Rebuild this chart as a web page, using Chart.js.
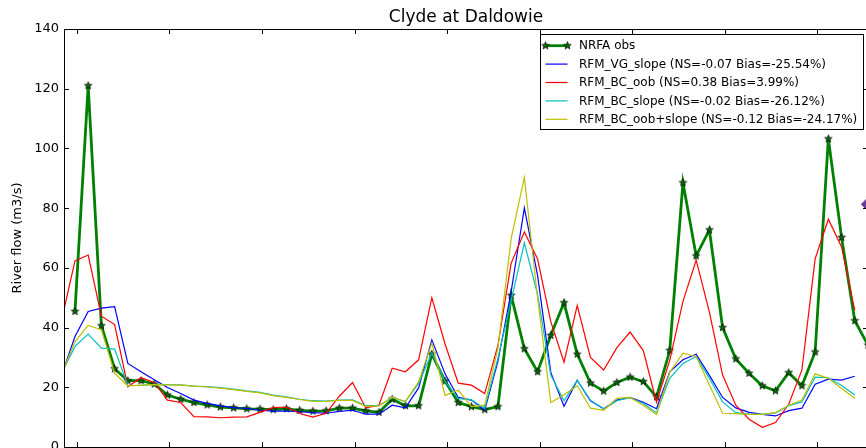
<!DOCTYPE html>
<html>
<head>
<meta charset="utf-8">
<script src="https://cdn.jsdelivr.net/npm/chart.js@4/dist/chart.umd.min.js"></script>
<style>
html, body { margin: 0; padding: 0; background: #fff; overflow: hidden; }
#wrap { width: 866px; height: 448px; overflow: hidden; }
canvas { display: block; }
</style>
</head>
<body>
<div id="wrap"><canvas id="chart" width="880" height="456"></canvas></div>
<script>
// day index of first value in each series (models start one day earlier)
const obsStart = 0;
const modelStart = -1;

const obsFlow = [45.4, 121, 40.6, 26.2, 22.2, 22.2, 21.1, 17.4, 16.0, 14.9,
    14.1, 13.4, 13.1, 12.8, 12.7, 12.5, 12.8, 12.3, 12.0, 12.1,
    13.0, 13.0, 12.1, 11.6, 16.0, 13.8, 13.8, 31.1, 22.1, 14.9,
    13.5, 12.5, 13.5, 50.8, 32.9, 25.2, 37.4, 48.3, 31.1, 21.4,
    18.7, 21.6, 23.4, 21.9, 16.8, 32.3, 88.5, 64.0, 72.7, 40.0,
    29.5, 24.7, 20.5, 18.8, 24.9, 20.5, 31.8, 103.2, 70.2, 42.3, 34.1];

const vgSlope = [24.2, 37, 45.4, 46.5, 47.0, 28.0, 25.2, 22.5, 19.9, 17.9,
    15.7, 14.6, 13.8, 13.2, 12.9, 12.3, 12.0, 12.0, 11.8, 11.5,
    11.3, 11.9, 12.3, 11.0, 11.0, 14.0, 13.1, 19.8, 35.9, 24.5,
    16.6, 15.7, 12.3, 28.7, 52, 80.1, 57.5, 25, 13.6, 22.4,
    15.5, 12.8, 15.7, 16.6, 15.0, 12.8, 25.2, 29.2, 31.1, 24.0,
    16.6, 13.1, 11.6, 10.9, 10.4, 12.2, 13.0, 21.0, 22.7, 22.4, 23.7];

const bcOob = [42.7, 62.3, 64.3, 43.8, 41.0, 20.2, 23.2, 21.6, 15.7, 14.9,
    10.2, 10.1, 9.8, 10.0, 10.1, 11.6, 13.2, 13.4, 11.2, 10.0,
    11.3, 17.0, 21.6, 13.1, 14.0, 26.4, 25.2, 29.2, 50.0, 34.5,
    21.4, 20.7, 17.9, 34.0, 61.5, 72.0, 63.0, 42.0, 28.4, 47.4,
    30.0, 25.8, 33.3, 38.5, 32.3, 15.0, 29.0, 48.8, 62.6, 45.2,
    24.1, 14.0, 9.3, 6.6, 8.2, 14.3, 25.8, 63.0, 76.3, 67.0, 45.8];

const bcSlope = [24.8, 33.7, 37.8, 33.1, 32.8, 20.6, 20.6, 21.0, 20.9, 20.8,
    20.4, 20.2, 19.9, 19.4, 18.8, 18.3, 17.4, 16.8, 16.0, 15.5,
    15.4, 15.7, 15.8, 13.9, 13.9, 16.5, 15.2, 21.3, 31.5, 21.9,
    16.3, 15.8, 12.9, 29.7, 49.0, 68.4, 51.1, 24.1, 15.5, 22.3,
    15.6, 12.7, 15.5, 16.5, 14.6, 11.5, 23.0, 28.0, 30.3, 23.0,
    15.1, 11.5, 11.0, 10.9, 11.4, 13.8, 15.1, 23.4, 23.2, 20.6, 17.4];

const bcOobSlope = [24.5, 35.3, 40.7, 39.3, 24.7, 20.5, 20.7, 20.9, 20.8, 20.7,
    20.4, 20.1, 19.7, 19.2, 18.6, 18.1, 17.2, 16.6, 15.9, 15.3,
    15.3, 15.6, 15.6, 13.6, 13.8, 16.7, 15.2, 21.9, 34.8, 17.3,
    19.0, 13.5, 14.0, 33.0, 69.8, 90.3, 50.0, 14.9, 17.5, 20.5,
    13.0, 12.3, 16.3, 16.6, 14.0, 10.9, 25.0, 31.4, 30.3, 20.8,
    11.3, 11.2, 10.9, 10.9, 11.5, 14.0, 15.7, 24.5, 23.0, 19.6, 16.3];

// the purple marker peeking in at the right edge
const edgeMarker = [{ x: 60.1, y: 81.3 }];

const seriesNames = [
    'NRFA obs',
    'RFM_VG_slope (NS=-0.07 Bias=-25.54%)',
    'RFM_BC_oob (NS=0.38 Bias=3.99%)',
    'RFM_BC_slope (NS=-0.02 Bias=-26.12%)',
    'RFM_BC_oob+slope (NS=-0.12 Bias=-24.17%)'
];
const seriesColors = ['#008000', '#0000ff', '#ff0000', '#00bfbf', '#bfbf00'];

const yTicks = [0, 20, 40, 60, 80, 100, 120, 140];
const xTicks = [0.15, 7.15, 14.15, 21.15, 28.15, 35.15, 42.15, 49.15, 56.15];

const FONT = "'DejaVu Sans', sans-serif";

function toPoints(values, start) {
    return values.map((v, i) => ({ x: start + i, y: v }));
}

function makeStar(r) {
    const c = document.createElement('canvas');
    const s = Math.ceil(r * 2 + 3);
    c.width = s; c.height = s;
    const g = c.getContext('2d');
    g.translate(s / 2, s / 2);
    g.beginPath();
    for (let i = 0; i < 10; i++) {
        const rad = i % 2 ? r * 0.42 : r;
        const a = -Math.PI / 2 + i * Math.PI / 5;
        g.lineTo(rad * Math.cos(a), rad * Math.sin(a));
    }
    g.closePath();
    g.fillStyle = '#007000';
    g.fill();
    g.lineWidth = 0.7;
    g.strokeStyle = '#000';
    g.stroke();
    return c;
}
const star = makeStar(4);

const axesDecor = {
    id: 'axesDecor',
    afterDatasetsDraw(chart) {
        const ctx = chart.ctx;
        const ca = chart.chartArea;
        const xs = chart.scales.x, ys = chart.scales.y;
        ctx.save();
        ctx.strokeStyle = '#000';
        ctx.lineWidth = 1;
        ctx.beginPath();
        yTicks.forEach(v => {
            const y = Math.round(ys.getPixelForValue(v)) + 0.5;
            ctx.moveTo(ca.left, y); ctx.lineTo(ca.left + 5, y);
            ctx.moveTo(ca.right, y); ctx.lineTo(ca.right - 5, y);
        });
        xTicks.forEach(v => {
            const x = Math.round(xs.getPixelForValue(v)) + 0.5;
            ctx.moveTo(x, ca.top); ctx.lineTo(x, ca.top + 5);
            ctx.moveTo(x, ca.bottom); ctx.lineTo(x, ca.bottom - 5);
        });
        ctx.stroke();
        ctx.strokeRect(Math.round(ca.left) + 0.5, Math.round(ca.top) + 0.5,
            Math.round(ca.right - ca.left), Math.round(ca.bottom - ca.top));

        // title
        ctx.fillStyle = '#000';
        ctx.font = '17px ' + FONT;
        ctx.textAlign = 'center';
        ctx.textBaseline = 'alphabetic';
        ctx.fillText('Clyde at Daldowie', (ca.left + ca.right) / 2, 22);
        ctx.restore();
    },
    afterDraw(chart) {
        // legend box, matplotlib style, inside the upper right corner
        const ctx = chart.ctx;
        const ca = chart.chartArea;
        ctx.save();
        ctx.font = '12px ' + FONT;
        const tw = Math.max(...seriesNames.map(s => ctx.measureText(s).width));
        const right = ca.right - 5, top = ca.top + 5;
        const left = Math.round(right - (39 + tw + 6));
        const h = 95;
        ctx.fillStyle = '#fff';
        ctx.fillRect(left, top, right - left, h);
        ctx.strokeStyle = '#000';
        ctx.lineWidth = 1;
        ctx.strokeRect(left + 0.5, top + 0.5, right - left, h);
        seriesNames.forEach((name, i) => {
            const y = top + 11.7 + i * 18.4;
            ctx.strokeStyle = seriesColors[i];
            ctx.lineWidth = i === 0 ? 2.8 : 1.2;
            ctx.beginPath();
            ctx.moveTo(left + 5.5, y); ctx.lineTo(left + 27.5, y);
            ctx.stroke();
            if (i === 0) {
                ctx.drawImage(star, left + 5.5 - star.width / 2, y - star.height / 2);
                ctx.drawImage(star, left + 27.5 - star.width / 2, y - star.height / 2);
            }
            ctx.fillStyle = '#000';
            ctx.textAlign = 'left';
            ctx.textBaseline = 'middle';
            ctx.fillText(name, left + 39, y + 0.5);
        });
        ctx.restore();
    }
};

const modelSets = [vgSlope, bcOob, bcSlope, bcOobSlope].map((vals, i) => ({
    label: seriesNames[i + 1],
    data: toPoints(vals, modelStart),
    borderColor: seriesColors[i + 1],
    borderWidth: 1.2,
    pointRadius: 0,
    tension: 0,
    order: 4 - i
}));

new Chart(document.getElementById('chart'), {
    type: 'line',
    data: {
        datasets: [
            {
                label: seriesNames[0],
                data: toPoints(obsFlow, obsStart),
                borderColor: seriesColors[0],
                borderWidth: 2.8,
                pointStyle: star,
                pointRadius: 4,
                tension: 0,
                order: 5
            },
            ...modelSets,
            {
                label: 'marker',
                data: edgeMarker,
                showLine: false,
                pointStyle: 'rectRot',
                pointRadius: 8,
                backgroundColor: '#6a3d9a',
                borderColor: '#6a3d9a',
                clip: false,
                order: 0
            }
        ]
    },
    options: {
        responsive: false,
        devicePixelRatio: 1,
        animation: false,
        events: [],
        layout: { padding: { top: 29, right: 12, left: 0, bottom: 0 } },
        plugins: { legend: { display: false }, tooltip: { enabled: false }, title: { display: false } },
        scales: {
            x: {
                type: 'linear',
                min: -0.83,
                max: 60,
                grid: { display: false },
                border: { display: false },
                ticks: { display: false },
                afterBuildTicks: s => { s.ticks = xTicks.map(v => ({ value: v })); },
                afterFit: s => { s.height = 3; s.paddingLeft = 0; s.paddingRight = 0; }
            },
            y: {
                min: 0,
                max: 140,
                grid: { display: false, drawTicks: false },
                border: { display: false },
                ticks: {
                    stepSize: 20,
                    padding: 5,
                    color: '#000',
                    font: { family: FONT, size: 13 }
                },
                afterBuildTicks: s => { s.ticks = yTicks.map(v => ({ value: v })); },
                title: {
                    display: true,
                    text: 'River flow (m3/s)',
                    color: '#000',
                    font: { family: FONT, size: 13 },
                    padding: { top: 10, bottom: 0 }
                },
                afterFit: s => { s.width = 64; s.paddingTop = 0; s.paddingBottom = 0; }
            }
        }
    },
    plugins: [axesDecor]
});
</script>
</body>
</html>
